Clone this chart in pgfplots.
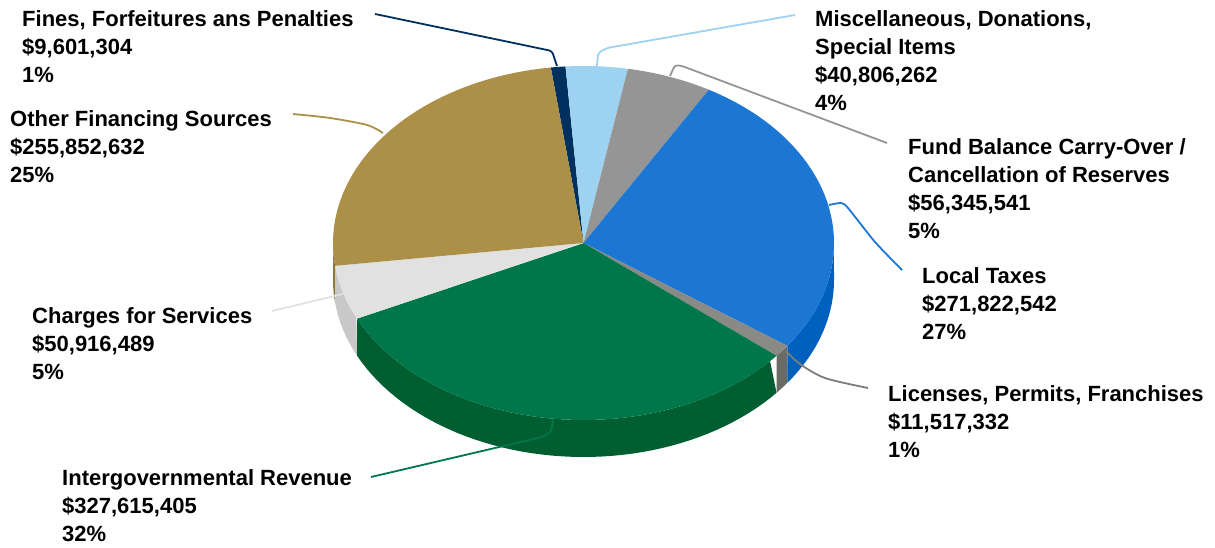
\documentclass[border=0pt]{standalone}
\usepackage{pgfplots}
\pgfplotsset{compat=1.18}
\usepackage{pgfplotstable}
\usepackage{fontspec}
\setmainfont{Liberation Sans}

\definecolor{cFines}{HTML}{00305E}
\definecolor{cMisc}{HTML}{9DD3F1}
\definecolor{cFund}{HTML}{959595}
\definecolor{cLocal}{HTML}{1C76D3}
\definecolor{cLocalS}{HTML}{0060BE}
\definecolor{cLic}{HTML}{8A8A85}
\definecolor{cLicS}{HTML}{6B6B66}
\definecolor{cInter}{HTML}{00774A}
\definecolor{cInterS}{HTML}{005E30}
\definecolor{cChg}{HTML}{E1E1E1}
\definecolor{cChgS}{HTML}{C8C8C8}
\definecolor{cOther}{HTML}{AD9048}
\definecolor{cOtherS}{HTML}{8F7638}

% slices in clockwise order, starting just left of 12 o'clock
\pgfplotstableread{
key value
Fines 9601304
Misc 40806262
Fund 56345541
Local 271822542
Licenses 11517332
Inter 327615405
Charges 50916489
Other 255852632
}\piedata

\def\startang{97.5}
\def\cx{583.5}\def\cy{243}\def\rx{250.5}\def\ry{177}\def\dep{37}

\edef\total{0}
\pgfplotsforeachungrouped \i in {0,...,7}{%
  \pgfplotstablegetelem{\i}{value}\of\piedata
  \edef\total{\fpeval{\total+\pgfplotsretval}}%
}
\expandafter\edef\csname b0\endcsname{\startang}
\edef\cum{0}
\pgfplotsforeachungrouped \i in {0,...,7}{%
  \pgfplotstablegetelem{\i}{value}\of\piedata
  \edef\cum{\fpeval{\cum+\pgfplotsretval}}%
  \edef\j{\fpeval{\i+1}}%
  \expandafter\edef\csname b\j\endcsname{\fpeval{round(\startang-360*\cum/\total,4)}}%
}
\newcommand\B[1]{\csname b#1\endcsname}

\newcommand\topface[2]{%
  \edef\hi{\B{#1}}%
  \edef\nx{\fpeval{#1+1}}%
  \edef\lo{\B{\nx}}%
  \edef\tmp{\noexpand\addplot[fill=#2, draw=none, domain=\lo:\hi, samples=90]
    ({\cx+\rx*cos(x)},{\cy-\ry*sin(x)}) -- (axis cs:\cx,\cy) -- cycle;}%
  \tmp
}
\newcommand\sideface[2]{%
  \edef\nx{\fpeval{#1+1}}%
  \edef\shi{\fpeval{min(\B{#1},0)}}%
  \edef\slo{\fpeval{max(\B{\nx},-180)}}%
  \ifnum\fpeval{\shi>\slo}=1
  \edef\tmp{\noexpand\addplot[fill=#2, draw=none,
      samples at={0,0.02,...,1,1.0001,1.02,1.04,...,2}]
    ({\cx+\rx*cos((\slo)+(1-abs(1-x))*((\shi)-(\slo)))},
     {\cy-\ry*sin((\slo)+(1-abs(1-x))*((\shi)-(\slo)))+\dep*(x>1)}) -- cycle;}%
  \tmp
  \fi
}
\newcommand\pielabel[3]{%
  \node[anchor=base west, inner sep=0pt, font=\fontsize{22}{28}\selectfont\bfseries]
    at (axis cs:#1,#2) {\begin{tabular}[t]{@{}l@{}}#3\end{tabular}};%
}

\begin{document}
\begin{tikzpicture}
\path[use as bounding box] (0,0) rectangle (1215pt,548pt);
\begin{axis}[
  at={(0,0)}, anchor=south west,
  width=1215pt, height=548pt, scale only axis,
  xmin=0, xmax=1215, ymin=0, ymax=548, y dir=reverse,
  hide axis, clip=false,
]
% side walls (front half only)
\sideface{7}{cOtherS}
\sideface{6}{cChgS}
\sideface{5}{cInterS}
\sideface{4}{cLicS}
\sideface{3}{cLocalS}
% top faces
\topface{0}{cFines}
\topface{1}{cMisc}
\topface{2}{cFund}
\topface{3}{cLocal}
\topface{4}{cLic}
\topface{5}{cInter}
\topface{6}{cChg}
\topface{7}{cOther}

% leader lines
\addplot[cFines, line width=1.8pt, rounded corners=3pt] coordinates {(375,14) (552,51) (557,66)};
\addplot[cMisc, line width=1.8pt, rounded corners=3pt] coordinates {(597,66) (598,53) (607,48) (795,15)};
\addplot[cFund, line width=1.8pt, rounded corners=3pt] coordinates {(670,76) (675,65) (682,66) (887,143)};
\addplot[cLocal, line width=1.8pt, smooth, tension=0.4] coordinates {(829,205) (841,203) (848,208) (875,242) (902,270)};
\addplot[cLic!90!black, line width=1.8pt, smooth, tension=0.5] coordinates {(786,351) (800,364) (825,378) (868,388)};
\addplot[cInter, line width=1.8pt, rounded corners=3pt] coordinates {(553,420) (551,432) (542,437) (371,477)};
\addplot[cChg, line width=1.8pt] coordinates {(343,294) (272,311)};
\addplot[cOther, line width=1.8pt, smooth, tension=0.5] coordinates {(383,133) (367,125) (330,118) (293,114)};

% labels
\pielabel{22}{27}{Fines, Forfeitures ans Penalties\\\$9,601,304\\1\%}
\pielabel{815}{27}{Miscellaneous, Donations,\\Special Items\\\$40,806,262\\4\%}
\pielabel{908}{155}{Fund Balance Carry-Over /\\Cancellation of Reserves\\\$56,345,541\\5\%}
\pielabel{922}{283}{Local Taxes\\\$271,822,542\\27\%}
\pielabel{888}{401}{Licenses, Permits, Franchises\\\$11,517,332\\1\%}
\pielabel{62}{485}{Intergovernmental Revenue\\\$327,615,405\\32\%}
\pielabel{32}{323}{Charges for Services\\\$50,916,489\\5\%}
\pielabel{10}{127}{Other Financing Sources\\\$255,852,632\\25\%}
\end{axis}
\end{tikzpicture}
\end{document}
